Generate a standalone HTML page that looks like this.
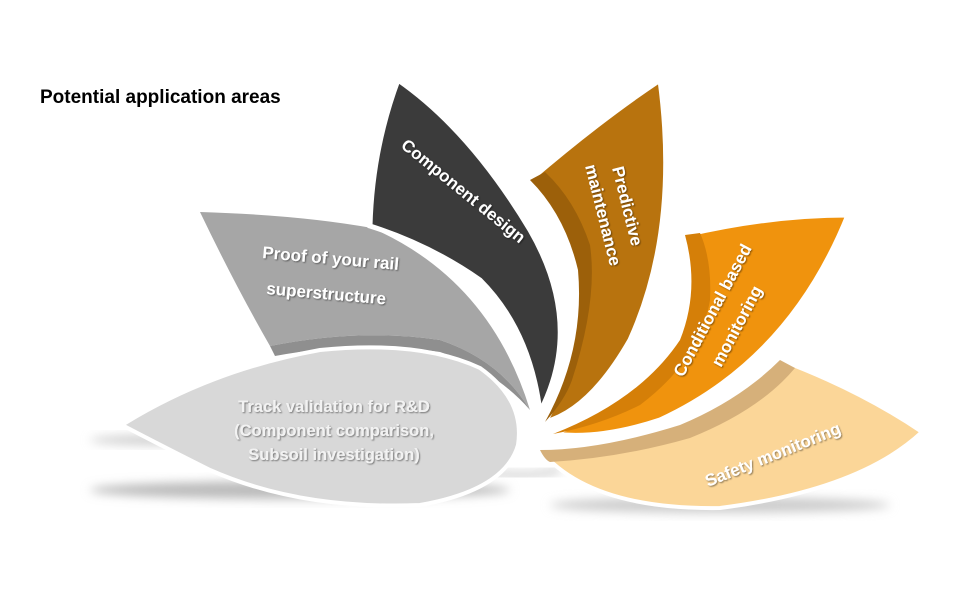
<!DOCTYPE html>
<html><head><meta charset="utf-8"><style>
html,body{margin:0;padding:0;background:#fff;}
svg{display:block;font-family:"Liberation Sans",Arial,sans-serif;}
</style></head><body>
<svg width="970" height="600" viewBox="0 0 970 600" xmlns="http://www.w3.org/2000/svg">
<defs>
<filter id="b" x="-20%" y="-50%" width="140%" height="200%"><feGaussianBlur stdDeviation="5"/></filter>
<filter id="ts"><feDropShadow dx="1" dy="1" stdDeviation="0.8" flood-color="#000" flood-opacity="0.45"/></filter>
</defs>
<rect width="970" height="600" fill="#fff"/>
<text x="40" y="103" font-size="19" font-weight="bold" fill="#000">Potential application areas</text>

<!-- shadows -->
<ellipse cx="300" cy="490" rx="210" ry="9" fill="#bbb" filter="url(#b)"/>
<ellipse cx="170" cy="440" rx="80" ry="5" fill="#ccc" filter="url(#b)"/>
<ellipse cx="720" cy="505" rx="170" ry="8" fill="#ccc" filter="url(#b)"/>
<path d="M480,470 Q520,480 560,470" stroke="#ccc" stroke-width="6" fill="none" filter="url(#b)"/>

<!-- Proof (gray) -->
<path d="M200,212 Q300,215 372,228 Q490,280 530,410 Q500,360 440,340 Q360,328 270,346 Q235,285 200,212Z" fill="#a6a6a6"/>
<path d="M270,346 Q360,328 440,340 Q500,360 530,410 Q495,370 440,352 Q360,340 275,356Z" fill="#8f8f8f"/>

<!-- Component design (dark) -->
<path d="M398,80 Q470,130 530,230 Q585,325 540,412 Q530,330 480,280 Q430,245 370,226 Q372,150 398,80Z" fill="#3b3b3b" stroke="#fff" stroke-width="5"/>

<!-- Predictive maintenance -->
<path d="M660,80 Q680,230 630,340 Q590,410 545,422 Q585,350 578,270 Q565,215 530,180 Q600,120 660,80Z" fill="#b8730e" stroke="#fff" stroke-width="5"/>
<path d="M530,180 Q565,215 578,270 Q585,350 545,422 Q565,400 572,380 Q598,300 590,245 Q575,200 545,172Z" fill="#9c600a"/>

<!-- Conditional based monitoring -->
<path d="M848,215 Q790,360 660,420 Q600,440 553,434 Q640,400 680,340 Q700,290 685,235 Q770,215 848,215Z" fill="#f0930d" stroke="#fff" stroke-width="5"/>
<path d="M685,235 Q700,290 680,340 Q640,400 553,434 Q600,425 640,405 Q700,360 710,300 Q712,260 700,233Z" fill="#d57f08"/>

<!-- Safety monitoring -->
<path d="M780,360 Q860,390 922,432 Q860,490 720,508 Q590,510 540,450 Q600,450 680,425 Q740,400 780,360Z" fill="#fbd698" stroke="#fff" stroke-width="4"/>
<path d="M780,360 Q740,400 680,425 Q600,450 540,450 Q545,460 550,462 Q620,458 690,438 Q760,410 795,368Z" fill="#d6b07a"/>

<!-- Track validation (light gray) -->
<path d="M122,425 Q210,370 320,350 Q420,340 480,368 Q525,400 518,445 Q505,490 420,505 Q300,510 210,470 Q160,445 122,425Z" fill="#d8d8d8" stroke="#fff" stroke-width="4"/>

<!-- labels -->
<g fill="#fff" font-weight="bold" font-size="17" filter="url(#ts)">
<text transform="translate(400,147) rotate(39)">Component design</text>
<text transform="translate(262,258) rotate(5)">Proof of your rail</text>
<text transform="translate(266,294) rotate(5)">superstructure</text>
<text transform="translate(612,168) rotate(76)">Predictive</text>
<text transform="translate(585,166) rotate(76)">maintenance</text>
<text transform="translate(683,378) rotate(-62)">Conditional based</text>
<text transform="translate(721,368) rotate(-62)">monitoring</text>
<text transform="translate(708,487) rotate(-22)">Safety monitoring</text>
</g>
<g fill="#f2f2f2" font-weight="bold" font-size="16.5" text-anchor="middle" filter="url(#ts)">
<text x="334" y="412">Track validation for R&amp;D</text>
<text x="334" y="436">(Component comparison,</text>
<text x="334" y="460">Subsoil investigation)</text>
</g>
</svg>
</body></html>
